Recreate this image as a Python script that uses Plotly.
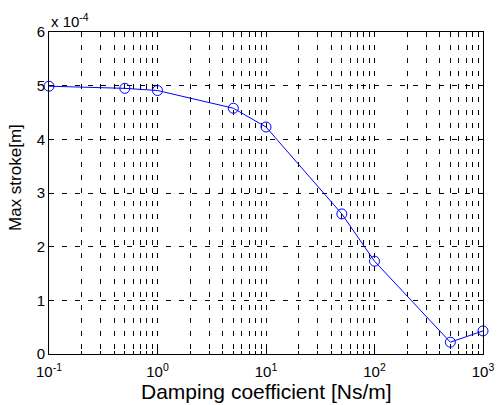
import plotly.graph_objects as go

damping = [0.1, 0.5, 1, 5, 10, 50, 100, 500, 1000]
stroke_e4 = [4.99, 4.95, 4.91, 4.58, 4.23, 2.61, 1.73, 0.22, 0.43]
x_tickvals = [0.1, 1, 10, 100, 1000]
x_ticktext = ["10<sup>-1</sup>", "10<sup>0</sup>", "10<sup>1</sup>", "10<sup>2</sup>", "10<sup>3</sup>"]
x_minor_mult = [2, 3, 4, 5, 6, 7, 8, 9]
y_tickvals = [0, 1, 2, 3, 4, 5, 6]

minor_vals = [m * d for d in x_tickvals[:-1] for m in x_minor_mult]

FONT = "Liberation Sans, Arial, sans-serif"
DASH = "5px,8px"

fig = go.Figure()
fig.add_trace(go.Scatter(
    x=damping, y=stroke_e4, mode="lines+markers",
    line=dict(color="#0000ff", width=1),
    marker=dict(symbol="circle-open", size=10, color="#0000ff", line=dict(width=1)),
    showlegend=False, cliponaxis=False,
))

fig.update_layout(
    width=497, height=405,
    margin=dict(l=49, r=14, t=32, b=51, autoexpand=False),
    paper_bgcolor="white", plot_bgcolor="white",
    font=dict(family=FONT, size=15, color="black"),
    xaxis=dict(
        type="log", range=[-1, 3],
        tickmode="array", tickvals=x_tickvals, ticktext=x_ticktext,
        ticks="inside", ticklen=5, tickcolor="black",
        showline=True, linecolor="black", linewidth=1, mirror="allticks",
        showgrid=True, gridcolor="black", gridwidth=1, griddash=DASH,
        minor=dict(tickmode="array", tickvals=minor_vals, ticks="inside", ticklen=3,
                   tickcolor="black", showgrid=True,
                   gridcolor="black", gridwidth=1, griddash=DASH),
        zeroline=False, automargin=False, ticklabeloverflow="allow",
        ticklabelstandoff=4,
        tickfont=dict(size=15),
    ),
    yaxis=dict(
        range=[0, 6], tickvals=y_tickvals,
        ticks="inside", ticklen=5, tickcolor="black",
        showline=True, linecolor="black", linewidth=1, mirror="allticks",
        showgrid=True, gridcolor="black", gridwidth=1, griddash=DASH,
        zeroline=False, automargin=False,
        tickfont=dict(size=15),
    ),
    annotations=[
        dict(text="x 10<sup>-4</sup>", xref="paper", yref="paper", x=0.0, y=1.0,
             xanchor="left", yanchor="bottom", showarrow=False, font=dict(size=15), yshift=0),
        dict(text="Damping coefficient [Ns/m]", xref="paper", yref="paper", x=0.5, y=0,
             xanchor="center", yanchor="middle", showarrow=False, font=dict(size=21), yshift=-37),
        dict(text="Max stroke[m]", xref="paper", yref="y", x=0, y=3.28, textangle=-90,
             xanchor="center", yanchor="middle", showarrow=False, font=dict(size=17), xshift=-33),
    ],
)

fig.write_html("out.html", post_script="document.body.style.margin='0';",
               config={"displayModeBar": False})
